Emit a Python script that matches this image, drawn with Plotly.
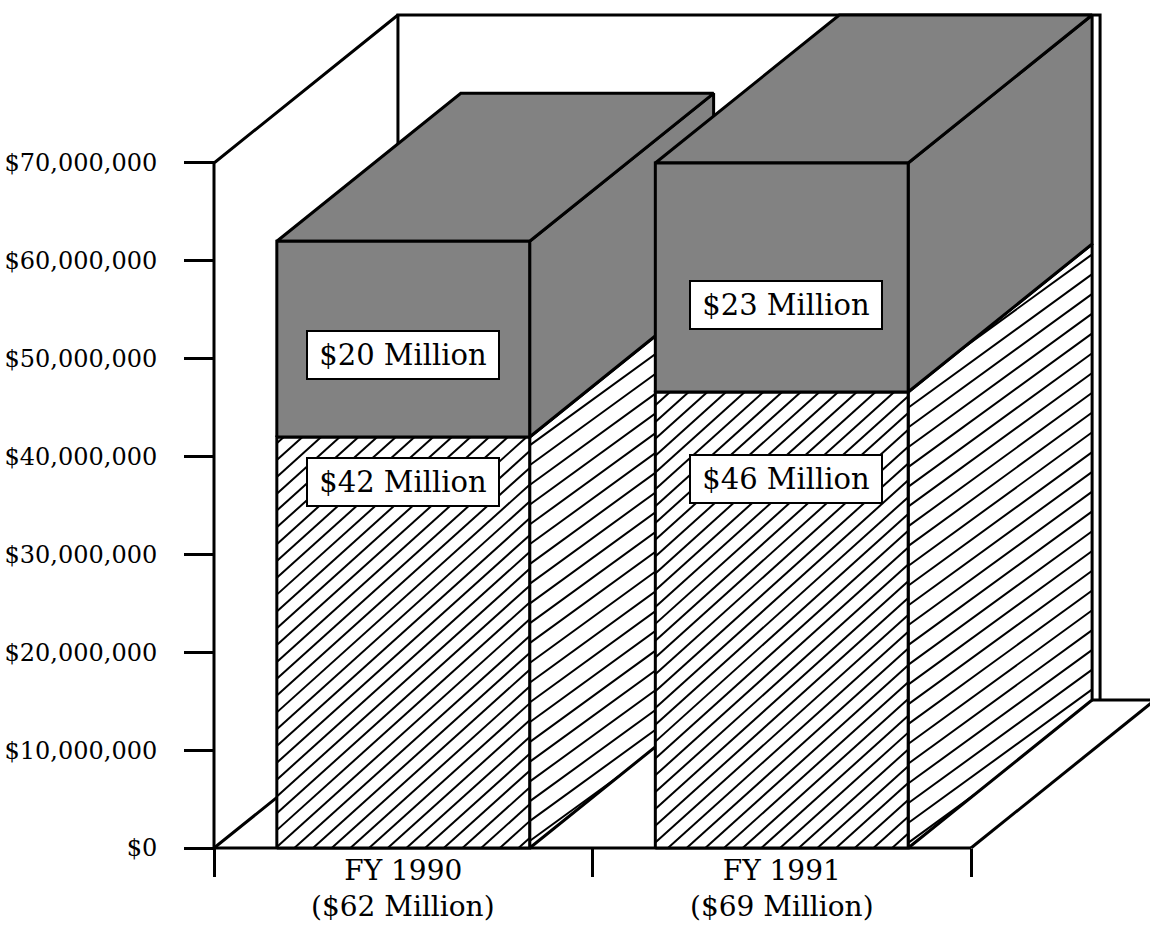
import math
import plotly.graph_objects as go

# ---------------- data ----------------
categories = ["FY 1990", "FY 1991"]
category_totals = ["($62 Million)", "($69 Million)"]
lower_values = [42_000_000, 46_600_000]   # hatched segment
upper_values = [20_000_000, 23_400_000]   # gray segment
lower_labels = ["$42 Million", "$46 Million"]
upper_labels = ["$20 Million", "$23 Million"]
y_tick_values = [0, 10_000_000, 20_000_000, 30_000_000, 40_000_000,
                 50_000_000, 60_000_000, 70_000_000]
y_axis_top = 70_000_000

# ---------------- style / geometry constants ----------------
FONT = "DejaVu Serif"
W, H = 1150, 930
M_L, M_R, M_T, M_B = 190, 0, 0, 72
HALF_W = 0.334            # half bar width (category units)
DX = 0.486                # depth offset, x (category units)
DY = 15_120_000           # depth offset, y (dollars)
WALL_RIGHT = 1.841        # right edge of back wall (category units)
GRAY = "#828282"
X_RANGE = [-0.56341, 1.97292]
Y_RANGE = [-1_021_900, 86_654_000]
PX_X = (W - M_L - M_R) / (X_RANGE[1] - X_RANGE[0])
PX_Y = (H - M_T - M_B) / (Y_RANGE[1] - Y_RANGE[0])

fig = go.Figure()


def to_px(x, y):
    return ((x - X_RANGE[0]) * PX_X, (Y_RANGE[1] - y) * PX_Y)


def to_data(px, py):
    return (px / PX_X + X_RANGE[0], Y_RANGE[1] - py / PX_Y)


def hatch(xs, ys, angle_deg, spacing, phase=0.0, width=2):
    """Diagonal hatch lines (rising to the right) clipped to a convex polygon."""
    pts = [to_px(x, y) for x, y in zip(xs, ys)]
    t = math.radians(angle_deg)
    d = (math.cos(t), -math.sin(t))
    nrm = (math.sin(t), math.cos(t))
    proj = [nrm[0] * p[0] + nrm[1] * p[1] for p in pts]
    c = math.floor((min(proj) - phase) / spacing) * spacing + phase
    hx, hy = [], []
    while c <= max(proj):
        hits = []
        for k in range(len(pts)):
            a, b = pts[k], pts[(k + 1) % len(pts)]
            sa = nrm[0] * a[0] + nrm[1] * a[1] - c
            sb = nrm[0] * b[0] + nrm[1] * b[1] - c
            if (sa <= 0 < sb) or (sb <= 0 < sa):
                f = sa / (sa - sb)
                hits.append((a[0] + (b[0] - a[0]) * f, a[1] + (b[1] - a[1]) * f))
        if len(hits) >= 2:
            hits.sort(key=lambda p: d[0] * p[0] + d[1] * p[1])
            for p in (hits[0], hits[-1]):
                dx_, dy_ = to_data(*p)
                hx.append(dx_)
                hy.append(dy_)
            hx.append(None)
            hy.append(None)
        c += spacing
    fig.add_trace(go.Scatter(x=hx, y=hy, mode="lines",
                             line=dict(color="black", width=width),
                             hoverinfo="skip", showlegend=False))


def poly(xs, ys, fill="white", hatch_style=None):
    fig.add_trace(go.Scatter(x=list(xs) + [xs[0]], y=list(ys) + [ys[0]], mode="lines",
                             fill="toself", fillcolor=fill,
                             line=dict(color="black", width=3),
                             hoverinfo="skip", showlegend=False))
    if hatch_style:
        hatch(xs, ys, **hatch_style)


def line(xs, ys, width=3):
    fig.add_trace(go.Scatter(x=xs, y=ys, mode="lines",
                             line=dict(color="black", width=width),
                             hoverinfo="skip", showlegend=False))


n = len(categories)
x0, x1 = -0.5, n - 0.5

# walls and floor (outline only)
line([x0, x0 + DX, X_RANGE[1] + 0.1], [0, DY, DY])                 # floor left + back edge
line([x0, x1], [0, 0])                                            # floor front edge
line([x1, x1 + DX], [0, DY])                                      # floor right edge
line([x0, x0, x0 + DX], [0, y_axis_top, y_axis_top + DY])         # y axis + left wall top
line([x0 + DX, x0 + DX, WALL_RIGHT, WALL_RIGHT],
     [DY, y_axis_top + DY, y_axis_top + DY, DY])                  # back wall

hatch_front = dict(angle_deg=42, spacing=12.5, width=2)
hatch_side = dict(angle_deg=36, spacing=16, width=2)

for i in range(n):
    lo = lower_values[i]
    tot = lower_values[i] + upper_values[i]
    l, r = i - HALF_W, i + HALF_W
    # side faces
    poly([r, r + DX, r + DX, r], [0, DY, lo + DY, lo], hatch_style=hatch_side)
    poly([r, r + DX, r + DX, r], [lo, lo + DY, tot + DY, tot], fill=GRAY)
    # top face
    poly([l, l + DX, r + DX, r], [tot, tot + DY, tot + DY, tot], fill=GRAY)
    # front faces
    poly([l, r, r, l], [0, 0, lo, lo], hatch_style=hatch_front)
    poly([l, r, r, l], [lo, lo, tot, tot], fill=GRAY)

# value labels
lower_label_pos = [0.89, 0.81]   # fraction of lower segment height
upper_label_pos = [0.42, 0.38]   # fraction of upper segment height
for i in range(n):
    lo = lower_values[i]
    up = upper_values[i]
    for text, yv in [(lower_labels[i], lo * lower_label_pos[i]),
                     (upper_labels[i], lo + up * upper_label_pos[i])]:
        fig.add_annotation(x=i + 0.01 * i, y=yv, text=text, showarrow=False,
                           font=dict(family=FONT, size=29, color="black"),
                           bgcolor="white", bordercolor="black", borderwidth=2,
                           borderpad=4, width=182, height=38)

# second line of each category label
for i in range(n):
    fig.add_annotation(x=i, xref="x", y=-0.0565, yref="paper",
                       text=category_totals[i], showarrow=False, yanchor="middle",
                       font=dict(family=FONT, size=28, color="black"))

fig.update_layout(
    width=W, height=H,
    margin=dict(l=M_L, r=M_R, t=M_T, b=M_B),
    paper_bgcolor="white", plot_bgcolor="white",
    showlegend=False,
    xaxis=dict(range=X_RANGE, anchor="free", position=10 / 858,
               tickvals=list(range(n)),
               ticktext=categories,
               ticks="", showgrid=False, zeroline=False, showline=False,
               tickfont=dict(family=FONT, size=28, color="black"),
               ticklabelstandoff=3,
               minor=dict(tickmode="array", tickvals=[x0 + k for k in range(n + 1)],
                          ticks="outside", ticklen=28, tickwidth=2.5,
                          tickcolor="black", showgrid=False)),
    yaxis=dict(range=Y_RANGE, anchor="free", position=24 / 960,
               tickvals=y_tick_values,
               ticktext=[f"${v:,.0f}" for v in y_tick_values],
               ticks="outside", ticklen=30, tickwidth=2.5, tickcolor="black",
               showgrid=False, zeroline=False, showline=False,
               ticklabelstandoff=22,
               tickfont=dict(family=FONT, size=24, color="black")),
)

fig.write_html("out.html")
